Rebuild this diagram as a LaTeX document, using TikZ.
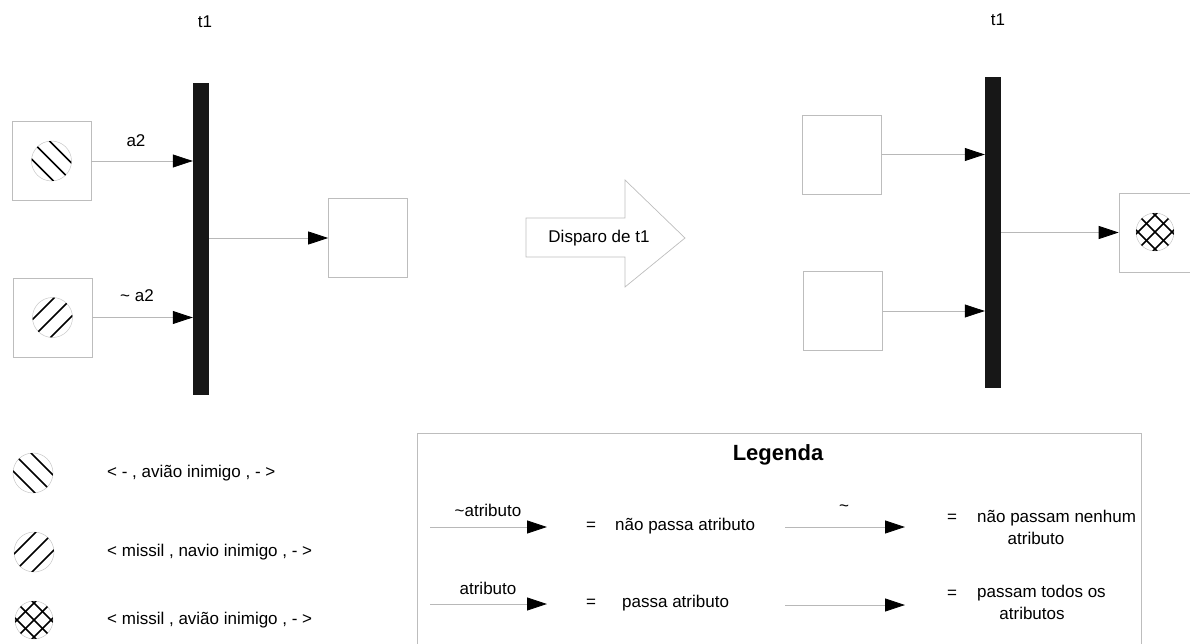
\documentclass[tikz,border=0pt]{standalone}
\usepackage{fontspec}
\setmainfont{Liberation Sans}
\usetikzlibrary{arrows.meta}
\definecolor{framegray}{gray}{0.74}
\definecolor{linegray}{gray}{0.72}
\definecolor{barblack}{gray}{0.09}
\tikzset{
  hatch/.style={black, line width=1.5pt},
  discedge/.style={draw=gray!45, line width=0.5pt},
  % disc hatched from upper left to lower right
  discdown/.pic={
    \draw[discedge] (0,0) circle[radius=20];
    \begin{scope}
      \clip (0,0) circle[radius=20];
      \foreach \d in {-9,0,9} \draw[hatch] (-30+\d,-30-\d) -- (30+\d,30-\d);
    \end{scope}},
  % disc hatched from lower left to upper right
  discup/.pic={
    \draw[discedge] (0,0) circle[radius=20];
    \begin{scope}
      \clip (0,0) circle[radius=20];
      \foreach \d in {-9,0,9} \draw[hatch] (-30+\d,30+\d) -- (30+\d,-30+\d);
    \end{scope}},
  % cross-hatched disc
  disccross/.pic={
    \draw[discedge] (0,0) circle[radius=19];
    \begin{scope}
      \clip (0,0) circle[radius=19];
      \foreach \d in {-8.5,0,8.5} {
        \draw[hatch] (-30+\d,-30-\d) -- (30+\d,30-\d);
        \draw[hatch] (-30+\d,30+\d) -- (30+\d,-30+\d);
      }
    \end{scope}}
}
\begin{document}
\begin{tikzpicture}[x=1pt, y=-1pt,
  every node/.style={font=\fontsize{17}{20}\selectfont, inner sep=0pt},
  place/.style={draw=framegray, line width=0.7pt, minimum width=79pt, minimum height=79pt},
  transbar/.style={fill=barblack, minimum width=16pt, minimum height=312pt},
  arc/.style={draw=linegray, line width=0.8pt,
    -{Triangle[length=20pt, width=13pt, color=black]}},
  frame/.style={draw=framegray, line width=0.7pt}
]
\path[use as bounding box, clip] (0,0) rectangle (1190,644);

% ---------- net before firing ----------
\node (t1a) at (205,22) {t1};
\node[transbar] (bar1) at (201,239) {};
\node[place] (p1) at (51.5,161) {};
\node[place] (p2) at (52.5,317.5) {};
\node[place] (p3) at (368,238) {};
\pic at (p1) {discdown};
\pic at (p2) {discup};
\draw[arc] (p1.east) -- (bar1.west |- p1.east);
\draw[arc] (p2.east) -- (bar1.west |- p2.east);
\draw[arc] (bar1.east |- p3.west) -- (p3.west);
\node (la2) at (136,141) {a2};
\node (lna2) at (137,296) {\textasciitilde\ a2};

% ---------- firing arrow ----------
\draw[frame] (526,218) -- (625,218) -- (625,180) -- (685,238)
  -- (625,287) -- (625,257) -- (526,257) -- cycle;
\node (fire) at (599,238) {Disparo de t1};

% ---------- net after firing ----------
\node (t1b) at (998,20) {t1};
\node[transbar, minimum height=311pt] (bar2) at (993,232.5) {};
\node[place] (q1) at (842,154.5) {};
\node[place] (q2) at (843,311) {};
\node[place] (q3) at (1158.5,232.5) {};
\pic at (1155,232) {disccross};
\draw[arc] (q1.east) -- (bar2.west |- q1.east);
\draw[arc] (q2.east) -- (bar2.west |- q2.east);
\draw[arc] (bar2.east |- q3.west) -- (q3.west);

% ---------- token colours ----------
\pic at (33,473) {discdown};
\pic at (34,552) {discup};
\pic at (34,620) {disccross};
\node[anchor=west] (c1) at (107,473) {< - , avião inimigo , - >};
\node[anchor=west] (c2) at (107,552) {< missil , navio inimigo , - >};
\node[anchor=west] (c3) at (107,620) {< missil , avião inimigo , - >};

% ---------- legend ----------
\draw[frame] (417,650) -- (417,433) -- (1141,433) -- (1141,650);
\node[font=\fontsize{22}{26}\selectfont\bfseries] (leg) at (778,455) {Legenda};

\coordinate (a1s) at (430,527); \coordinate (a1e) at (547,527);
\coordinate (a2s) at (430,604); \coordinate (a2e) at (547,604);
\coordinate (a3s) at (785,527); \coordinate (a3e) at (905,527);
\coordinate (a4s) at (785,605); \coordinate (a4e) at (905,605);
\draw[arc] (a1s) -- (a1e);
\draw[arc] (a2s) -- (a2e);
\draw[arc] (a3s) -- (a3e);
\draw[arc] (a4s) -- (a4e);

\node (l1) at (488,510) {\textasciitilde atributo};
\node (l2) at (488,588) {atributo};
\node (l3) at (844,508) {\textasciitilde};

\node (e1) at (591,526) {=};
\node (e2) at (591,603) {=};
\node[anchor=west] (d1) at (615,526) {não passa atributo};
\node[anchor=west] (d2) at (622,603) {passa atributo};

\node (e3) at (952,518) {=};
\node (e4) at (952,594) {=};
\node[anchor=west] (d3) at (977,518) {não passam nenhum};
\node (d3b) at (1036,538) {atributo};
\node[anchor=west] (d4) at (977,593) {passam todos os};
\node (d4b) at (1032,613) {atributos};
\end{tikzpicture}
\end{document}
